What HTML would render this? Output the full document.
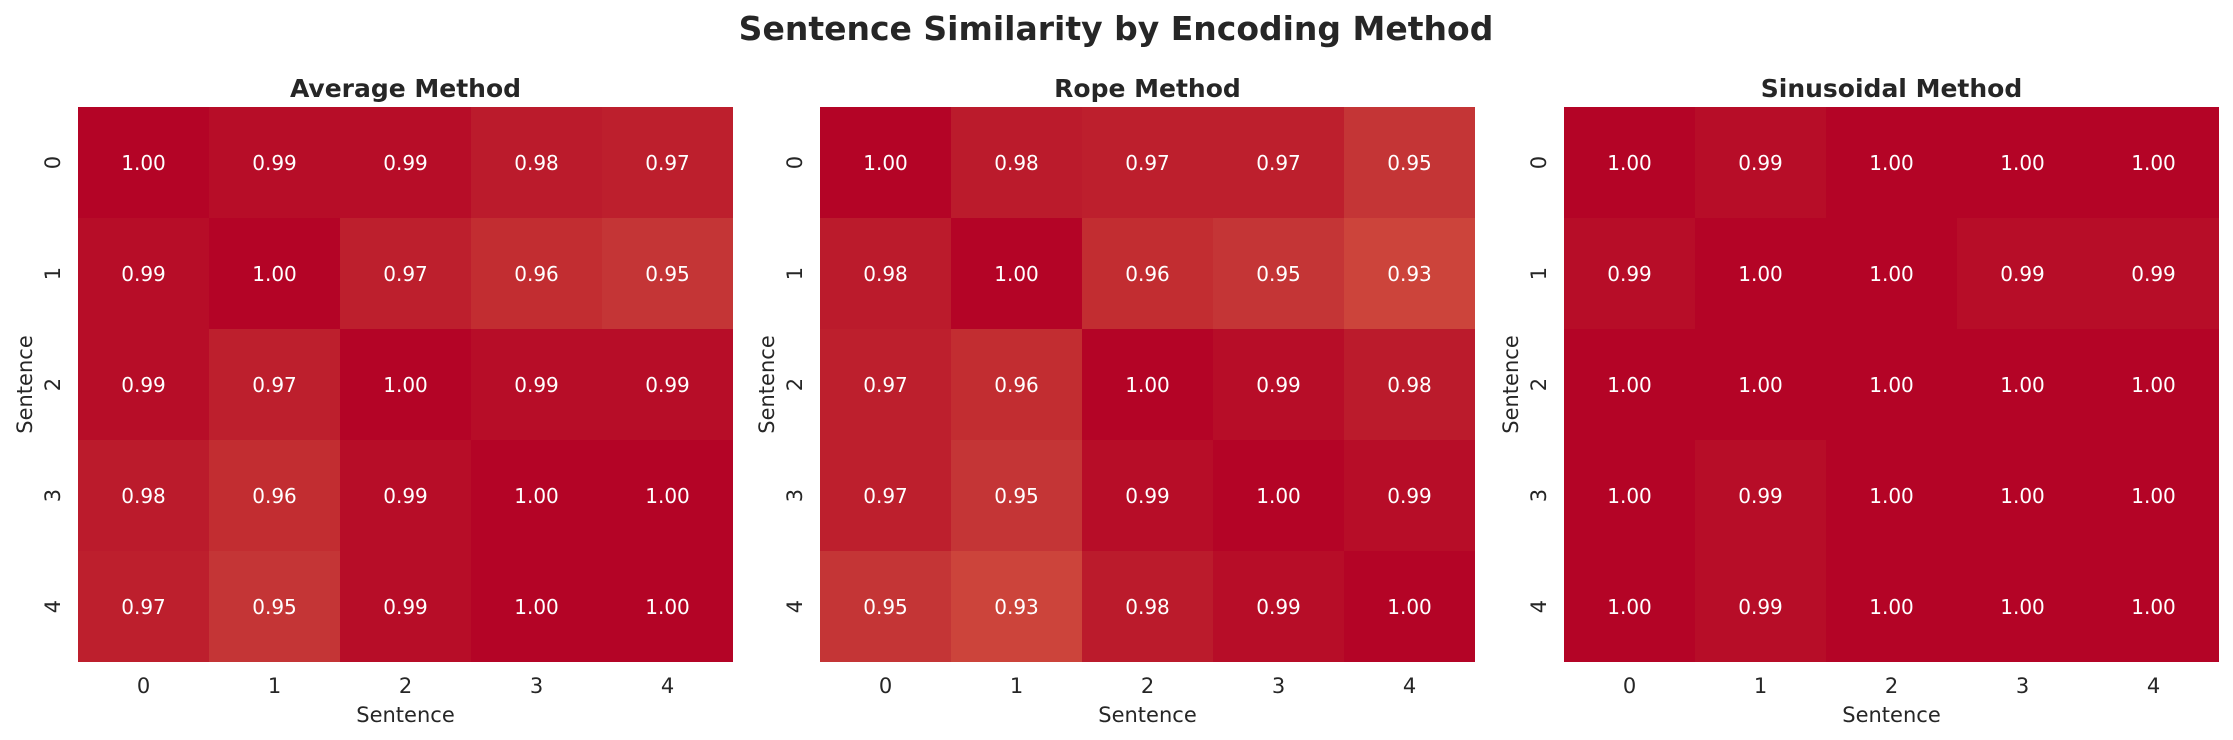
<!DOCTYPE html>
<html><head><meta charset="utf-8"><style>
html,body{margin:0;padding:0;background:#fff}
svg{display:block}
text{font-family:"DejaVu Sans","Liberation Sans",sans-serif;fill:#262626}
.a{fill:#fff;font-size:20px;text-anchor:middle}
.t{font-size:21px;text-anchor:middle}
.h{font-size:25px;font-weight:bold;text-anchor:middle}
</style></head><body>
<svg width="2233" height="740" viewBox="0 0 2233 740" xmlns="http://www.w3.org/2000/svg">
<rect width="2233" height="740" fill="#fff"/>
<text x="1116" y="40" style="font-size:33px;font-weight:bold;text-anchor:middle">Sentence Similarity by Encoding Method</text>

<!-- Average -->
<g transform="translate(78,107)">
<rect x="0" y="0" width="131" height="111" fill="#b40426"/><rect x="131" y="0" width="131" height="111" fill="#b70d28"/><rect x="262" y="0" width="131" height="111" fill="#b70d28"/><rect x="393" y="0" width="131" height="111" fill="#bb1b2c"/><rect x="524" y="0" width="131" height="111" fill="#bd1f2d"/>
<rect x="0" y="111" width="131" height="111" fill="#b70d28"/><rect x="131" y="111" width="131" height="111" fill="#b40426"/><rect x="262" y="111" width="131" height="111" fill="#bd1f2d"/><rect x="393" y="111" width="131" height="111" fill="#c22d31"/><rect x="524" y="111" width="131" height="111" fill="#c43536"/>
<rect x="0" y="222" width="131" height="111" fill="#b70d28"/><rect x="131" y="222" width="131" height="111" fill="#bd1f2d"/><rect x="262" y="222" width="131" height="111" fill="#b40426"/><rect x="393" y="222" width="131" height="111" fill="#b70d28"/><rect x="524" y="222" width="131" height="111" fill="#b70d28"/>
<rect x="0" y="333" width="131" height="111" fill="#bb1b2c"/><rect x="131" y="333" width="131" height="111" fill="#c22d31"/><rect x="262" y="333" width="131" height="111" fill="#b70d28"/><rect x="393" y="333" width="131" height="111" fill="#b40426"/><rect x="524" y="333" width="131" height="111" fill="#b40426"/>
<rect x="0" y="444" width="131" height="111" fill="#bd1f2d"/><rect x="131" y="444" width="131" height="111" fill="#c43536"/><rect x="262" y="444" width="131" height="111" fill="#b70d28"/><rect x="393" y="444" width="131" height="111" fill="#b40426"/><rect x="524" y="444" width="131" height="111" fill="#b40426"/>
<text class="a" x="65.5" y="63">1.00</text><text class="a" x="196.5" y="63">0.99</text><text class="a" x="327.5" y="63">0.99</text><text class="a" x="458.5" y="63">0.98</text><text class="a" x="589.5" y="63">0.97</text>
<text class="a" x="65.5" y="174">0.99</text><text class="a" x="196.5" y="174">1.00</text><text class="a" x="327.5" y="174">0.97</text><text class="a" x="458.5" y="174">0.96</text><text class="a" x="589.5" y="174">0.95</text>
<text class="a" x="65.5" y="285">0.99</text><text class="a" x="196.5" y="285">0.97</text><text class="a" x="327.5" y="285">1.00</text><text class="a" x="458.5" y="285">0.99</text><text class="a" x="589.5" y="285">0.99</text>
<text class="a" x="65.5" y="396">0.98</text><text class="a" x="196.5" y="396">0.96</text><text class="a" x="327.5" y="396">0.99</text><text class="a" x="458.5" y="396">1.00</text><text class="a" x="589.5" y="396">1.00</text>
<text class="a" x="65.5" y="507">0.97</text><text class="a" x="196.5" y="507">0.95</text><text class="a" x="327.5" y="507">0.99</text><text class="a" x="458.5" y="507">1.00</text><text class="a" x="589.5" y="507">1.00</text>
<text class="h" x="327.5" y="-10">Average Method</text>
<text class="t" x="65.5" y="586">0</text><text class="t" x="196.5" y="586">1</text><text class="t" x="327.5" y="586">2</text><text class="t" x="458.5" y="586">3</text><text class="t" x="589.5" y="586">4</text>
<text class="t" x="327.5" y="615">Sentence</text>
<text class="t" transform="translate(-18,55.5) rotate(-90)">0</text><text class="t" transform="translate(-18,166.5) rotate(-90)">1</text><text class="t" transform="translate(-18,277.5) rotate(-90)">2</text><text class="t" transform="translate(-18,388.5) rotate(-90)">3</text><text class="t" transform="translate(-18,499.5) rotate(-90)">4</text>
<text class="t" transform="translate(-46,277.5) rotate(-90)">Sentence</text>
</g>

<!-- Rope -->
<g transform="translate(820,107)">
<rect x="0" y="0" width="131" height="111" fill="#b40426"/><rect x="131" y="0" width="131" height="111" fill="#bb1b2c"/><rect x="262" y="0" width="131" height="111" fill="#bd1f2d"/><rect x="393" y="0" width="131" height="111" fill="#bd1f2d"/><rect x="524" y="0" width="131" height="111" fill="#c43536"/>
<rect x="0" y="111" width="131" height="111" fill="#bb1b2c"/><rect x="131" y="111" width="131" height="111" fill="#b40426"/><rect x="262" y="111" width="131" height="111" fill="#c22d31"/><rect x="393" y="111" width="131" height="111" fill="#c43536"/><rect x="524" y="111" width="131" height="111" fill="#cc443b"/>
<rect x="0" y="222" width="131" height="111" fill="#bd1f2d"/><rect x="131" y="222" width="131" height="111" fill="#c22d31"/><rect x="262" y="222" width="131" height="111" fill="#b40426"/><rect x="393" y="222" width="131" height="111" fill="#b70d28"/><rect x="524" y="222" width="131" height="111" fill="#bb1b2c"/>
<rect x="0" y="333" width="131" height="111" fill="#bd1f2d"/><rect x="131" y="333" width="131" height="111" fill="#c43536"/><rect x="262" y="333" width="131" height="111" fill="#b70d28"/><rect x="393" y="333" width="131" height="111" fill="#b40426"/><rect x="524" y="333" width="131" height="111" fill="#b70d28"/>
<rect x="0" y="444" width="131" height="111" fill="#c43536"/><rect x="131" y="444" width="131" height="111" fill="#cc443b"/><rect x="262" y="444" width="131" height="111" fill="#bb1b2c"/><rect x="393" y="444" width="131" height="111" fill="#b70d28"/><rect x="524" y="444" width="131" height="111" fill="#b40426"/>
<text class="a" x="65.5" y="63">1.00</text><text class="a" x="196.5" y="63">0.98</text><text class="a" x="327.5" y="63">0.97</text><text class="a" x="458.5" y="63">0.97</text><text class="a" x="589.5" y="63">0.95</text>
<text class="a" x="65.5" y="174">0.98</text><text class="a" x="196.5" y="174">1.00</text><text class="a" x="327.5" y="174">0.96</text><text class="a" x="458.5" y="174">0.95</text><text class="a" x="589.5" y="174">0.93</text>
<text class="a" x="65.5" y="285">0.97</text><text class="a" x="196.5" y="285">0.96</text><text class="a" x="327.5" y="285">1.00</text><text class="a" x="458.5" y="285">0.99</text><text class="a" x="589.5" y="285">0.98</text>
<text class="a" x="65.5" y="396">0.97</text><text class="a" x="196.5" y="396">0.95</text><text class="a" x="327.5" y="396">0.99</text><text class="a" x="458.5" y="396">1.00</text><text class="a" x="589.5" y="396">0.99</text>
<text class="a" x="65.5" y="507">0.95</text><text class="a" x="196.5" y="507">0.93</text><text class="a" x="327.5" y="507">0.98</text><text class="a" x="458.5" y="507">0.99</text><text class="a" x="589.5" y="507">1.00</text>
<text class="h" x="327.5" y="-10">Rope Method</text>
<text class="t" x="65.5" y="586">0</text><text class="t" x="196.5" y="586">1</text><text class="t" x="327.5" y="586">2</text><text class="t" x="458.5" y="586">3</text><text class="t" x="589.5" y="586">4</text>
<text class="t" x="327.5" y="615">Sentence</text>
<text class="t" transform="translate(-18,55.5) rotate(-90)">0</text><text class="t" transform="translate(-18,166.5) rotate(-90)">1</text><text class="t" transform="translate(-18,277.5) rotate(-90)">2</text><text class="t" transform="translate(-18,388.5) rotate(-90)">3</text><text class="t" transform="translate(-18,499.5) rotate(-90)">4</text>
<text class="t" transform="translate(-46,277.5) rotate(-90)">Sentence</text>
</g>

<!-- Sinusoidal -->
<g transform="translate(1564,107)">
<rect x="0" y="0" width="655" height="555" fill="#b40426"/>
<rect x="131" y="0" width="131" height="111" fill="#b70d28"/>
<rect x="0" y="111" width="131" height="111" fill="#b70d28"/><rect x="393" y="111" width="131" height="111" fill="#b70d28"/><rect x="524" y="111" width="131" height="111" fill="#b70d28"/>
<rect x="131" y="333" width="131" height="111" fill="#b70d28"/>
<rect x="131" y="444" width="131" height="111" fill="#b70d28"/>
<text class="a" x="65.5" y="63">1.00</text><text class="a" x="196.5" y="63">0.99</text><text class="a" x="327.5" y="63">1.00</text><text class="a" x="458.5" y="63">1.00</text><text class="a" x="589.5" y="63">1.00</text>
<text class="a" x="65.5" y="174">0.99</text><text class="a" x="196.5" y="174">1.00</text><text class="a" x="327.5" y="174">1.00</text><text class="a" x="458.5" y="174">0.99</text><text class="a" x="589.5" y="174">0.99</text>
<text class="a" x="65.5" y="285">1.00</text><text class="a" x="196.5" y="285">1.00</text><text class="a" x="327.5" y="285">1.00</text><text class="a" x="458.5" y="285">1.00</text><text class="a" x="589.5" y="285">1.00</text>
<text class="a" x="65.5" y="396">1.00</text><text class="a" x="196.5" y="396">0.99</text><text class="a" x="327.5" y="396">1.00</text><text class="a" x="458.5" y="396">1.00</text><text class="a" x="589.5" y="396">1.00</text>
<text class="a" x="65.5" y="507">1.00</text><text class="a" x="196.5" y="507">0.99</text><text class="a" x="327.5" y="507">1.00</text><text class="a" x="458.5" y="507">1.00</text><text class="a" x="589.5" y="507">1.00</text>
<text class="h" x="327.5" y="-10">Sinusoidal Method</text>
<text class="t" x="65.5" y="586">0</text><text class="t" x="196.5" y="586">1</text><text class="t" x="327.5" y="586">2</text><text class="t" x="458.5" y="586">3</text><text class="t" x="589.5" y="586">4</text>
<text class="t" x="327.5" y="615">Sentence</text>
<text class="t" transform="translate(-18,55.5) rotate(-90)">0</text><text class="t" transform="translate(-18,166.5) rotate(-90)">1</text><text class="t" transform="translate(-18,277.5) rotate(-90)">2</text><text class="t" transform="translate(-18,388.5) rotate(-90)">3</text><text class="t" transform="translate(-18,499.5) rotate(-90)">4</text>
<text class="t" transform="translate(-46,277.5) rotate(-90)">Sentence</text>
</g>
</svg>
</body></html>
